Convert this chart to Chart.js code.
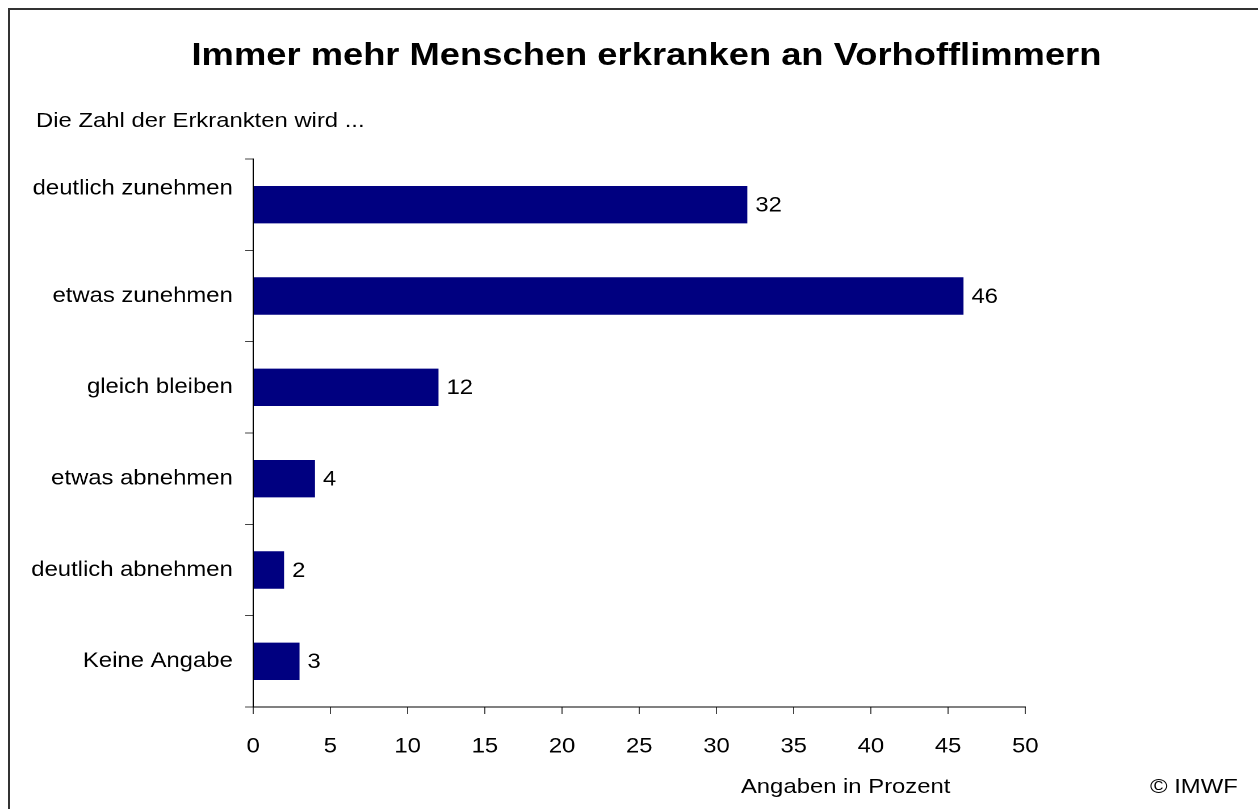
<!DOCTYPE html>
<html lang="de">
<head>
<meta charset="utf-8">
<title>Immer mehr Menschen erkranken an Vorhofflimmern</title>
<script src="https://cdn.jsdelivr.net/npm/chart.js@4.4.1/dist/chart.umd.min.js"></script>
<style>
  html, body { margin: 0; padding: 0; background: #fff; overflow: hidden; width: 1258px; height: 809px; }
  .frame { position: absolute; left: 8px; top: 8px; width: 1400px; height: 1000px; border: 2px solid #333; }
  /* the reference is stretched horizontally, so the whole drawing is too */
  #wrap { position: absolute; left: 0; top: 0; width: 1108px; height: 809px; transform: scaleX(1.1354); transform-origin: 0 0; font-family: "Liberation Sans", Arial, sans-serif; color: #000; }
  #wrap canvas { position: absolute; left: 0; top: 0; }
  .txt { position: absolute; white-space: nowrap; }
  .title { top: 38px; left: 569.4px; transform: translateX(-50%); font-size: 32px; line-height: 32px; font-weight: bold; }
  .sub { top: 109px; left: 31.7px; font-size: 21px; line-height: 21px; }
  .unit { top: 775px; left: 652.6px; font-size: 21px; line-height: 21px; }
  .copy { top: 775px; left: 1012.9px; font-size: 21px; line-height: 21px; }
</style>
</head>
<body>
<div class="frame"></div>
<div id="wrap">
  <canvas id="chart" width="1108" height="809" style="width:1108px;height:809px"></canvas>
  <div class="txt title">Immer mehr Menschen erkranken an Vorhofflimmern</div>
  <div class="txt sub">Die Zahl der Erkrankten wird ...</div>
  <div class="txt unit">Angaben in Prozent</div>
  <div class="txt copy">© IMWF</div>
</div>
<script>
const categories = ['deutlich zunehmen', 'etwas zunehmen', 'gleich bleiben', 'etwas abnehmen', 'deutlich abnehmen', 'Keine Angabe'];
const values = [32, 46, 12, 4, 2, 3];
const xMin = 0;
const xMax = 50;
const xStep = 5;

const FONT = '"Liberation Sans", Arial, sans-serif';

// Numbers written just right of each bar
const valueLabels = {
    id: 'valueLabels',
    afterDatasetsDraw(chart) {
        const ctx = chart.ctx;
        const meta = chart.getDatasetMeta(0);
        ctx.save();
        ctx.font = '21px ' + FONT;
        ctx.fillStyle = '#000';
        ctx.textAlign = 'left';
        ctx.textBaseline = 'middle';
        meta.data.forEach((bar, i) => {
            ctx.fillText(String(values[i]), bar.x + 7, bar.y + 1);
        });
        ctx.restore();
    }
};

const initChart = () => {
    const ctx = document.getElementById('chart').getContext('2d');
    new Chart(ctx, {
        type: 'bar',
        data: {
            labels: categories,
            datasets: [{
                data: values,
                backgroundColor: '#000080',
                borderWidth: 0,
                categoryPercentage: 1,
                barPercentage: 0.41
            }]
        },
        options: {
            indexAxis: 'y',
            responsive: false,
            devicePixelRatio: 2,
            animation: false,
            layout: { padding: { top: 159, right: 205, bottom: 0, left: 0 } },
            plugins: {
                legend: { display: false },
                tooltip: { enabled: false },
                title: { display: false }
            },
            scales: {
                x: {
                    min: xMin,
                    max: xMax,
                    afterFit: (scale) => { scale.height = 102; },
                    grid: { drawOnChartArea: false, drawTicks: true, tickLength: 7, color: '#444' },
                    border: { color: '#000', width: 1 },
                    ticks: {
                        stepSize: xStep,
                        padding: 20,
                        color: '#000',
                        font: { family: FONT, size: 21 }
                    }
                },
                y: {
                    offset: true,
                    afterFit: (scale) => { scale.width = 223; },
                    grid: { offset: true, drawOnChartArea: false, drawTicks: true, tickLength: 7, color: '#444' },
                    border: { color: '#000', width: 1 },
                    ticks: {
                        padding: 11,
                        color: '#000',
                        font: { family: FONT, size: 21, lineHeight: 1.5 },
                        // the first label sits higher than its bar in the original
                        callback: (v, i) => i === 0 ? [categories[i], ''] : categories[i]
                    }
                }
            }
        },
        plugins: [valueLabels]
    });
};

document.addEventListener('DOMContentLoaded', initChart);
</script>
</body>
</html>
